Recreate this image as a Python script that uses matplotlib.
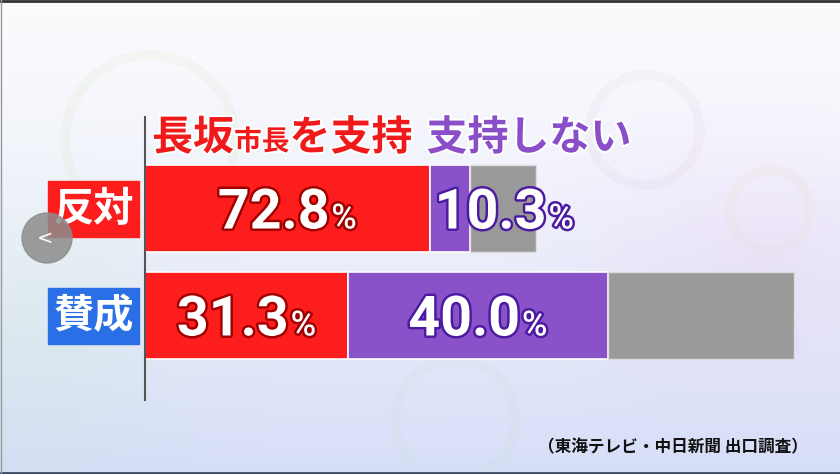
import numpy as np
import matplotlib
matplotlib.use("Agg")
import matplotlib.pyplot as plt
import matplotlib.patheffects as pe
from matplotlib.patches import Rectangle, Circle

# ---------------- data ----------------
rows = ['反対', '賛成']
row_share = [37.6, 62.4]          # relative size of each group (bar length)
support = [72.8, 31.3]            # 長坂市長を支持
not_support = [10.3, 40.0]        # 支持しない
other = [16.9, 28.7]              # unlabeled remainder
support_labels = ['72.8', '31.3']
not_support_labels = ['10.3', '40.0']
header_parts = [('長坂', 'big', 'red'), ('市長', 'small', 'red'),
                ('を支持', 'big', 'red'), ('支持しない', 'big', 'purple')]
source_text = '（東海テレビ・中日新聞 出口調査）'

# ---------------- style ----------------
W, H = 840, 474
RED = '#fe1d1d'
PURPLE = '#8a52c8'
GRAY = '#999999'
BLUE = '#2b6fe6'
JP = ['Noto Sans CJK JP', 'DejaVu Sans']
NUM = ['Roboto', 'DejaVu Sans']

fig = plt.figure(figsize=(W / 100, H / 100), dpi=100)


def pixel_axes(z):
    a = fig.add_axes([0, 0, 1, 1], zorder=z)
    a.set_xlim(0, W)
    a.set_ylim(H, 0)
    a.patch.set_alpha(0)
    a.axis('off')
    return a


# background axes
pax = pixel_axes(0)

yy, xx = np.mgrid[0:H, 0:W]
top = np.array([0.985, 0.985, 0.995])
bot = np.array([0.84, 0.87, 0.97])
t = (yy / H) ** 1.3
img = top[None, None, :] * (1 - t[..., None]) + bot[None, None, :] * t[..., None]
blob = np.exp(-(((xx - 760) / 160) ** 2 + ((yy - 260) / 120) ** 2))
img += blob[..., None] * np.array([0.0, -0.04, -0.01])
blob2 = np.exp(-(((xx - 40) / 120) ** 2 + ((yy - 330) / 140) ** 2))
img += blob2[..., None] * np.array([-0.03, 0.0, -0.04])
img = np.clip(img, 0, 1)
pax.imshow(img, extent=[0, W, H, 0], aspect='auto', zorder=0)

ring_specs = [(150, 140, 85, '#c8d8a0'), (645, 130, 55, '#d8b8d0'),
              (455, 420, 60, '#c8d8c8'), (770, 210, 40, '#e0d8b0')]
for cx, cy, r, c in ring_specs:
    pax.add_patch(Circle((cx, cy), r, fill=False, ec=c, lw=7, alpha=0.11, zorder=1))

pax.plot([0, W], [0.8, 0.8], color='#333333', lw=2, zorder=2)
pax.plot([0, W], [H - 1, H - 1], color='#3c4a66', lw=2, zorder=2)
pax.plot([0.5, 0.5], [0, H], color='#9a9a9a', lw=1, zorder=2)

# ---------------- bars ----------------
x0_px, unit_px = 145, 10.4
ax = fig.add_axes([0, 0, 1, 1], zorder=3)
ax.set_xlim(-x0_px / unit_px, (W - x0_px) / unit_px)
ax.set_ylim(H, 0)
ax.patch.set_alpha(0)
ax.axis('off')

y_centers = [208.5, 315.5]
bar_h = 87
seg_a = [s * v / 100 for s, v in zip(row_share, support)]
seg_b = [s * v / 100 for s, v in zip(row_share, not_support)]
seg_c = [s * v / 100 for s, v in zip(row_share, other)]
left_b = seg_a
left_c = [a + b for a, b in zip(seg_a, seg_b)]
ax.barh(y_centers, seg_a, height=bar_h, color=RED, edgecolor='white', linewidth=1.2)
ax.barh(y_centers, seg_b, left=left_b, height=bar_h, color=PURPLE, edgecolor='white', linewidth=1.2)
ax.barh(y_centers, seg_c, left=left_c, height=bar_h, color=GRAY, edgecolor='#dddddd', linewidth=1.0)

ax.plot([0, 0], [117, 400], color='#555555', lw=1.5, zorder=5)

# text / overlay axes on top
tax = pixel_axes(10)

for yc, lab, col in zip(y_centers, rows, [RED, BLUE]):
    tax.add_patch(Rectangle((48, yc - 28), 91, 56, color=col, zorder=4))
    tax.text(93.5, yc + 1, lab, ha='center', va='center', fontsize=29,
             family=JP, weight='bold', color='white', zorder=5)

fig.canvas.draw()
renderer = fig.canvas.get_renderer()


def to_px(x, y):
    d = ax.transData.transform((x, y))
    return tax.transData.inverted().transform(d)


def width_px(tobj):
    return tobj.get_window_extent(renderer).width


def pct_label(xc_data, yc, num, stroke, mode='center', pad=6):
    cx, _ = to_px(xc_data, yc)
    base = yc + 20
    eff = [pe.withStroke(linewidth=3.5, foreground=stroke)]
    t1 = tax.text(0, base, num, ha='left', va='baseline', fontsize=40, family=NUM,
                  weight='bold', color='white', zorder=6, path_effects=eff)
    t2 = tax.text(0, base, '%', ha='left', va='baseline', fontsize=25, family=NUM,
                  weight='medium', color='white', zorder=6, path_effects=eff)
    w1, w2 = width_px(t1), width_px(t2)
    if mode == 'center':
        start = cx - (w1 + w2 + 2) / 2
    else:
        start = cx + pad
    t1.set_x(start)
    t2.set_x(start + w1 + 2)


for i, yc in enumerate(y_centers):
    pct_label(seg_a[i] / 2, yc, support_labels[i], '#a00000')
    if i == 0:
        pct_label(left_b[i], yc, not_support_labels[i], '#4a1aa0', mode='left', pad=5)
    else:
        pct_label(left_b[i] + seg_b[i] / 2, yc, not_support_labels[i], '#4a1aa0')

# header
xcur = 152
hdr_base = 150
for txt, size, col in header_parts:
    fs = 29.5 if size == 'big' else 20
    c = '#f01a1a' if col == 'red' else '#8a4fc8'
    if col == 'purple':
        xcur += 14
    th = tax.text(xcur, hdr_base, txt, ha='left', va='baseline', fontsize=fs,
                  family=JP, weight='bold', color=c, zorder=6,
                  path_effects=[pe.withStroke(linewidth=3, foreground='white')])
    xcur += width_px(th)

tax.text(808, 447, source_text, ha='right', va='center', fontsize=12,
         family=JP, weight='bold', color='#111111', zorder=6)

tax.add_patch(Circle((47, 238), 25, color='#8c8c8c', alpha=0.85, zorder=7))
tax.text(45, 238, '<', ha='center', va='center', fontsize=14, color='white',
         family=['DejaVu Sans'], zorder=8)

fig.savefig('out.png', dpi=100)
